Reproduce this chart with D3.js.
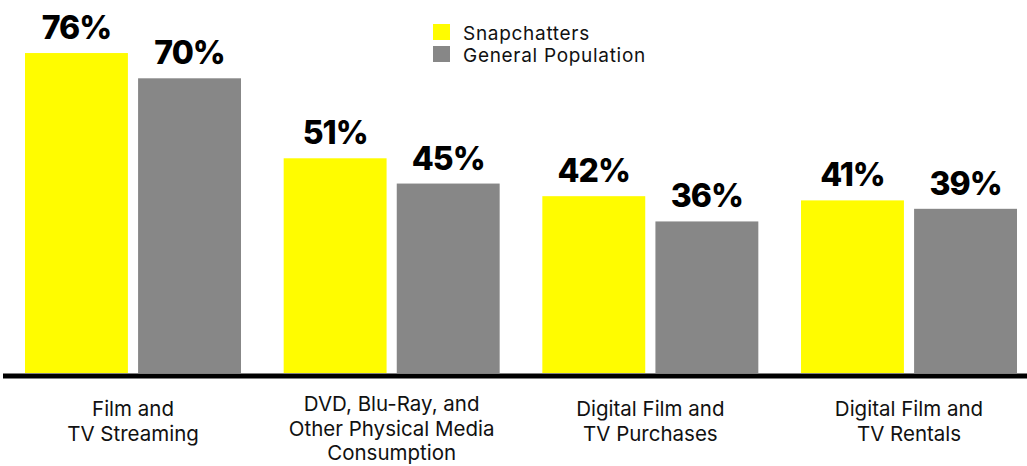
<!DOCTYPE html>
<html>
<head>
<meta charset="utf-8">
<script src="https://cdn.jsdelivr.net/npm/d3@7"></script>
<style>
  html, body { margin: 0; padding: 0; background: #fff; }
  svg { display: block; font-family: Inter, "Noto Sans", sans-serif; }
</style>
</head>
<body>
<svg id="chart" width="1027" height="466"></svg>
<script>
const categories = [
  ["Film and", "TV Streaming"],
  ["DVD, Blu-Ray, and", "Other Physical Media", "Consumption"],
  ["Digital Film and", "TV Purchases"],
  ["Digital Film and", "TV Rentals"]
];
const seriesNames = ["Snapchatters", "General Population"];
const snapchatters = [76, 51, 42, 41];
const generalPopulation = [70, 45, 36, 39];
const seriesColors = ["#FFFC00", "#878787"];

const svg = d3.select("#chart");
const baseY = 373;

const x0 = d3.scaleBand()
  .domain(d3.range(categories.length))
  .range([25, 1017])
  .paddingInner(0.165)
  .paddingOuter(0);

const x1 = d3.scaleBand()
  .domain(seriesNames)
  .range([0, x0.bandwidth()])
  .paddingInner(0.09)
  .paddingOuter(0);

const y = d3.scaleLinear().domain([0, 100]).range([baseY, baseY - 421]);

const color = d3.scaleOrdinal().domain(seriesNames).range(seriesColors);

const data = categories.map((c, i) => ({
  i,
  values: [
    { key: seriesNames[0], v: snapchatters[i] },
    { key: seriesNames[1], v: generalPopulation[i] }
  ]
}));

const groups = svg.append("g").selectAll("g")
  .data(data).join("g")
  .attr("transform", d => `translate(${x0(d.i)},0)`);

groups.selectAll("rect")
  .data(d => d.values).join("rect")
  .attr("x", d => x1(d.key))
  .attr("y", d => y(d.v))
  .attr("width", x1.bandwidth())
  .attr("height", d => y(0) - y(d.v))
  .attr("fill", d => color(d.key));

groups.selectAll("text.val")
  .data(d => d.values).join("text")
  .attr("class", "val")
  .attr("x", d => x1(d.key) + x1.bandwidth() / 2)
  .attr("y", d => y(d.v) - 14)
  .attr("text-anchor", "middle")
  .attr("font-size", 32)
  .attr("font-weight", 800)
  .attr("letter-spacing", -1)
  .attr("fill", "#000")
  .text(d => d.v + "%");

// baseline axis
svg.append("line")
  .attr("x1", 3).attr("x2", 1027)
  .attr("y1", baseY + 3).attr("y2", baseY + 3)
  .attr("stroke", "#000").attr("stroke-width", 5);

// category labels
const catG = svg.append("g").selectAll("text")
  .data(categories).join("text")
  .attr("text-anchor", "middle")
  .attr("font-size", 20.5)
  .attr("fill", "#111")
  .attr("transform", (d, i) => `translate(${x0(i) + x0.bandwidth() / 2},${416 - (d.length - 2) * 5})`);
catG.selectAll("tspan")
  .data(d => d).join("tspan")
  .attr("x", 0)
  .attr("dy", (d, j) => j === 0 ? 0 : 24.5)
  .text(d => d);

// legend
const legend = svg.append("g").attr("transform", "translate(433,24)");
const li = legend.selectAll("g").data(seriesNames).join("g")
  .attr("transform", (d, i) => `translate(0,${i * 22})`);
li.append("rect").attr("width", 17).attr("height", 16).attr("fill", d => color(d));
li.append("text")
  .attr("x", 30).attr("y", 16)
  .attr("font-size", 19)
  .attr("letter-spacing", 0.7)
  .attr("fill", "#111")
  .text(d => d);
</script>
</body>
</html>
